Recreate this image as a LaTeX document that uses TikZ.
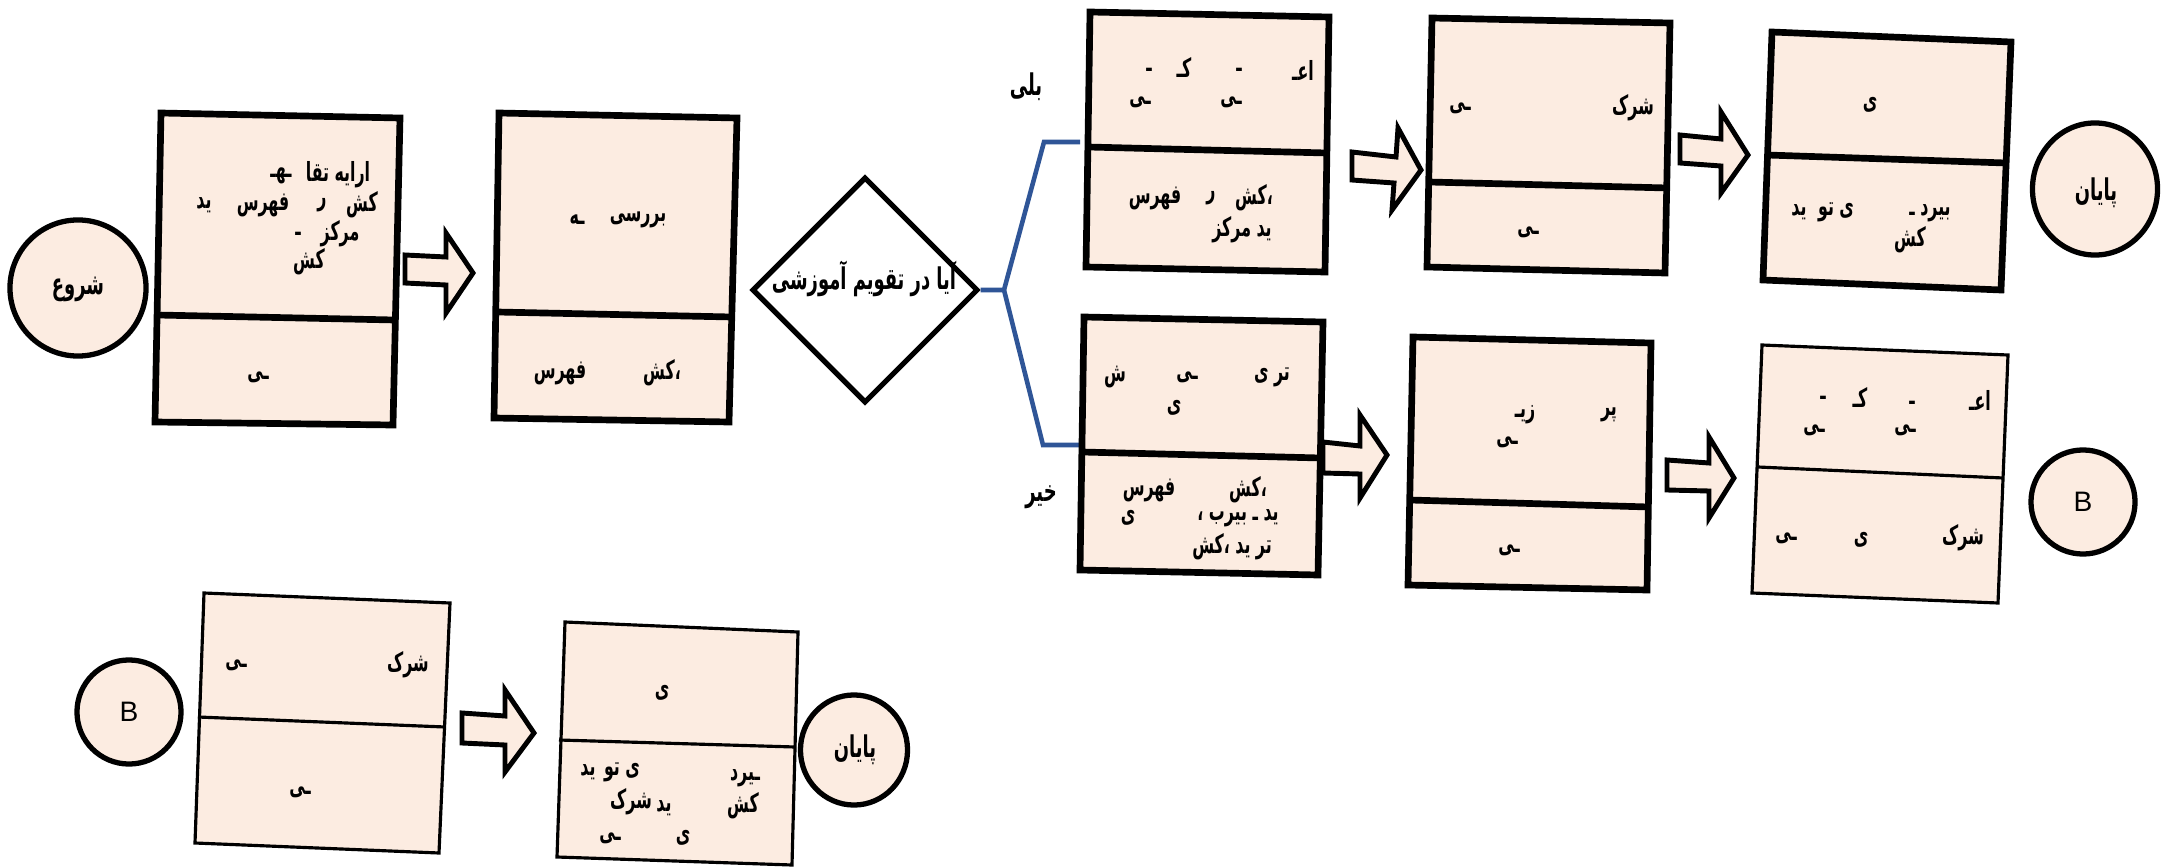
\documentclass[tikz,border=0pt]{standalone}
\usepackage{fontspec}
\usetikzlibrary{shapes.geometric}
\TeXXeTstate=1
\newfontfamily\pfont[Script=Arabic,FakeStretch=0.6]{DejaVu Sans}
\newfontfamily\latinB{Liberation Sans}
\newcommand\fatext[1]{{\pfont\bfseries\beginR #1\endR}}
\definecolor{peach}{HTML}{FCECE1}
\definecolor{linkblue}{HTML}{2F5597}
\tikzset{
  thickbox/.style={draw=black, line width=1.9pt, fill=peach, line join=miter},
  thinbox/.style={draw=black, line width=0.9pt, fill=peach, line join=miter},
  thickdiv/.style={draw=black, line width=1.9pt},
  thindiv/.style={draw=black, line width=0.9pt},
  blockarrow/.style={draw=black, line width=1.4pt, fill=peach, line join=miter},
  term/.style={draw=black, line width=1.5pt, fill=peach, ellipse, inner sep=0pt},
  frag/.style={inner sep=0pt, font=\fontsize{7.5}{9}\selectfont},
  lbl/.style={inner sep=0pt, font=\fontsize{8.5}{10}\selectfont},
  blueline/.style={draw=linkblue, line width=1.3pt, line join=miter},
}
\begin{document}
\begin{tikzpicture}[x=0.01cm, y=-0.01cm]
\fill[white] (0,0) rectangle (2163,867);
\useasboundingbox (0,0) rectangle (2163,867);

% ---------- start ----------
\node[term, minimum width=1.36cm, minimum height=1.36cm] (start) at (78,288) {};
\node[lbl] (starttext) at (78,289) {\fatext{شروع}};

% ---------- box 1 ----------
\draw[thickbox] (161,113) -- (400,118) -- (393,425) -- (155,422) -- cycle;
\draw[thickdiv] (157,315) -- (395,320);
\node[frag] (b1a) at (338,175) {\fatext{ارایه تقا}};
\node[frag] (b1b) at (281,176) {\fatext{ـهـ}};
\node[frag] (b1c) at (362,205) {\fatext{کش}};
\node[frag] (b1d) at (322,205) {\fatext{ر}};
\node[frag] (b1e) at (263,205) {\fatext{فهرس}};
\node[frag] (b1f) at (204,205) {\fatext{ید}};
\node[frag] (b1g) at (340,234) {\fatext{مرکز}};
\node[frag] (b1h) at (298,234) {\fatext{ـ}};
\node[frag] (b1i) at (309,262) {\fatext{کش}};
\node[frag] (b1j) at (258,377) {\fatext{ـی}};

% ---------- arrow 1 ----------
\draw[blockarrow] (405,255) -- (446,257) -- (446,233) -- (473,273) -- (446,313) -- (446,285) -- (405,283) -- cycle;

% ---------- box 2 ----------
\draw[thickbox] (499,113) -- (737,118) -- (729,422) -- (494,418) -- cycle;
\draw[thickdiv] (497,312) -- (732,317);
\node[frag] (b2a) at (638,220) {\fatext{بررسی}};
\node[frag] (b2b) at (577,220) {\fatext{ـه}};
\node[frag] (b2c) at (662,373) {\fatext{،کش}};
\node[frag] (b2d) at (560,373) {\fatext{فهرس}};

% ---------- decision ----------
\node[draw=black, line width=1.5pt, fill=white, diamond, aspect=1, minimum width=2.26cm, minimum height=2.26cm, inner sep=0pt] (dec) at (865,290) {};
\node[lbl] (dectext) at (864,279) {\fatext{آیا در تقویم آموزشی}};

\coordinate (jn) at (1004,290);
\coordinate (upk) at (1044,142);
\coordinate (upe) at (1080,142);
\coordinate (dnk) at (1043,445);
\coordinate (dne) at (1081,445);
\draw[blueline] (dec.east) -- (jn) -- (upk) -- (upe);
\draw[blueline] (jn) -- (dnk) -- (dne);
\node[lbl] (yes) at (1026,87) {\fatext{بلی}};
\node[lbl] (no) at (1041,497) {\fatext{خیر}};

% ---------- box 3 ----------
\draw[thickbox] (1090,12) -- (1329,17) -- (1325,272) -- (1086,267) -- cycle;
\draw[thickdiv] (1088,147) -- (1327,153);
\node[frag] (b3a) at (1303,70) {\fatext{اعـ}};
\node[frag] (b3b) at (1184,67) {\fatext{کـ}};
\node[frag] (b3c) at (1149,70) {\fatext{ـ}};
\node[frag] (b3d) at (1239,70) {\fatext{ـ}};
\node[frag] (b3e) at (1140,102) {\fatext{ـی}};
\node[frag] (b3f) at (1231,102) {\fatext{ـی}};
\node[frag] (b3g) at (1254,198) {\fatext{،کش}};
\node[frag] (b3h) at (1211,198) {\fatext{ر}};
\node[frag] (b3i) at (1155,198) {\fatext{فهرس}};
\node[frag] (b3j) at (1242,230) {\fatext{ید مرکز}};

% ---------- arrow 2 ----------
\draw[blockarrow] (1352,152) -- (1396,157) -- (1398,128) -- (1421,170) -- (1392,210) -- (1394,183) -- (1352,180) -- cycle;

% ---------- box 4 ----------
\draw[thickbox] (1432,18) -- (1670,23) -- (1665,273) -- (1427,267) -- cycle;
\draw[thickdiv] (1429,182) -- (1668,188);
\node[frag] (b4a) at (1633,108) {\fatext{شرک}};
\node[frag] (b4b) at (1460,108) {\fatext{ـی}};
\node[frag] (b4c) at (1528,232) {\fatext{ـی}};

% ---------- arrow 3 ----------
\draw[blockarrow] (1680,135) -- (1721,139) -- (1721,112) -- (1748,155) -- (1721,193) -- (1721,166) -- (1680,163) -- cycle;

% ---------- box 5 ----------
\draw[thickbox] (1772,32) -- (2011,42) -- (2001,290) -- (1763,280) -- cycle;
\draw[thickdiv] (1767,155) -- (2006,163);
\node[frag] (b5a) at (1870,105) {\fatext{ی}};
\node[frag] (b5b) at (1836,212) {\fatext{ی تو}};
\node[frag] (b5c) at (1799,212) {\fatext{ید}};
\node[frag] (b5d) at (1930,213) {\fatext{بیرد ـ}};
\node[frag] (b5e) at (1910,240) {\fatext{کش}};

\node[term, minimum width=1.25cm, minimum height=1.32cm] (end1) at (2095,189) {};
\node[lbl] (end1text) at (2096,193) {\fatext{پایان}};

% ---------- box 6 ----------
\draw[thickbox] (1084,317) -- (1323,322) -- (1318,575) -- (1080,570) -- cycle;
\draw[thickdiv] (1082,452) -- (1321,458);
\node[frag] (b6a) at (1115,377) {\fatext{ش}};
\node[frag] (b6b) at (1187,377) {\fatext{ـی}};
\node[frag] (b6c) at (1272,377) {\fatext{تر ی}};
\node[frag] (b6d) at (1174,408) {\fatext{ی}};
\node[frag] (b6e) at (1149,490) {\fatext{فهرس}};
\node[frag] (b6f) at (1248,490) {\fatext{،کش}};
\node[frag] (b6g) at (1128,518) {\fatext{ی}};
\node[frag] (b6h) at (1238,518) {\fatext{ید ـ بیرب ،}};
\node[frag] (b6i) at (1232,547) {\fatext{تر ید ،کش}};

% ---------- arrow 4 ----------
\draw[blockarrow] (1323,442) -- (1360,446) -- (1360,415) -- (1387,455) -- (1360,498) -- (1360,474) -- (1323,473) -- cycle;

% ---------- box 7 ----------
\draw[thickbox] (1413,337) -- (1651,343) -- (1647,590) -- (1408,585) -- cycle;
\draw[thickdiv] (1410,500) -- (1649,507);
\node[frag] (b7a) at (1609,415) {\fatext{پر}};
\node[frag] (b7b) at (1525,415) {\fatext{زیـ}};
\node[frag] (b7c) at (1507,442) {\fatext{ـی}};
\node[frag] (b7d) at (1509,550) {\fatext{ـی}};

% ---------- arrow 5 ----------
\draw[blockarrow] (1667,460) -- (1709,463) -- (1709,437) -- (1734,478) -- (1709,518) -- (1709,491) -- (1667,490) -- cycle;

% ---------- box 8 ----------
\draw[thinbox] (1762,345) -- (2008,355) -- (1998,603) -- (1752,593) -- cycle;
\draw[thindiv] (1758,467) -- (2003,478);
\node[frag] (b8a) at (1980,400) {\fatext{اعـ}};
\node[frag] (b8b) at (1860,397) {\fatext{کـ}};
\node[frag] (b8c) at (1823,398) {\fatext{ـ}};
\node[frag] (b8d) at (1912,403) {\fatext{ـ}};
\node[frag] (b8e) at (1814,430) {\fatext{ـی}};
\node[frag] (b8f) at (1905,430) {\fatext{ـی}};
\node[frag] (b8g) at (1786,538) {\fatext{ـی}};
\node[frag] (b8h) at (1861,540) {\fatext{ی}};
\node[frag] (b8i) at (1963,538) {\fatext{شرک}};

\node[term, circle, minimum size=1.04cm] (b1) at (2083,502) {\latinB\fontsize{8}{9}\selectfont B};

% ---------- bottom row ----------
\node[term, circle, minimum size=1.04cm] (b2) at (129,712) {\latinB\fontsize{8}{9}\selectfont B};

\draw[thinbox] (204,593) -- (450,603) -- (439,853) -- (195,843) -- cycle;
\draw[thindiv] (198,717) -- (445,727);
\node[frag] (b9a) at (236,665) {\fatext{ـی}};
\node[frag] (b9b) at (408,665) {\fatext{شرک}};
\node[frag] (b9c) at (300,792) {\fatext{ـی}};

\draw[blockarrow] (462,713) -- (505,716) -- (505,690) -- (534,733) -- (505,772) -- (505,745) -- (462,743) -- cycle;

\draw[thinbox] (565,622) -- (798,632) -- (792,865) -- (557,857) -- cycle;
\draw[thindiv] (559,740) -- (795,747);
\node[frag] (b10a) at (662,693) {\fatext{ی}};
\node[frag] (b10b) at (622,772) {\fatext{ی تو}};
\node[frag] (b10c) at (588,772) {\fatext{ید}};
\node[frag] (b10d) at (745,778) {\fatext{ـیرد}};
\node[frag] (b10e) at (631,802) {\fatext{شرک}};
\node[frag] (b10f) at (664,808) {\fatext{ید}};
\node[frag] (b10g) at (743,806) {\fatext{کش}};
\node[frag] (b10h) at (610,838) {\fatext{ـی}};
\node[frag] (b10i) at (683,838) {\fatext{ی}};

\node[term, minimum width=1.07cm, minimum height=1.1cm] (end2) at (854,750) {};
\node[lbl] (end2text) at (855,750) {\fatext{پایان}};
\end{tikzpicture}
\end{document}
